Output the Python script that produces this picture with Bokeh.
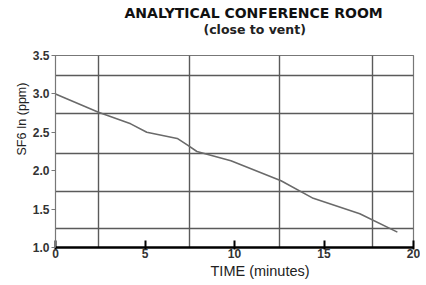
from bokeh.plotting import figure
from bokeh.models import Range1d, FixedTicker, Title, NumeralTickFormatter
from bokeh.embed import file_html
from bokeh.resources import INLINE

# data
time_min = [0, 2.4, 4.2, 5.1, 6.8, 7.4, 7.9, 9.8, 12.6, 14.4, 17.0, 19.1]
sf6_ln = [3.0, 2.76, 2.61, 2.50, 2.42, 2.33, 2.25, 2.13, 1.87, 1.64, 1.44, 1.20]

x_ticks = [0, 5, 10, 15, 20]
y_ticks = [1.0, 1.5, 2.0, 2.5, 3.0, 3.5]
x_grid = [2.4, 7.5, 12.5, 17.7]
y_grid = [1.25, 1.73, 2.23, 2.75, 3.24]

p = figure(width=420, height=280, output_backend="svg", toolbar_location=None,
           x_range=Range1d(0, 20), y_range=Range1d(1.0, 3.5),
           min_border_left=55, min_border_right=7, min_border_top=55, min_border_bottom=33)
p.title = None

p.line(time_min, sf6_ln, line_color="#6a6a6a", line_width=1.6)

p.xaxis.ticker = FixedTicker(ticks=x_ticks)
p.yaxis.ticker = FixedTicker(ticks=y_ticks)
p.yaxis.formatter = NumeralTickFormatter(format="0.0")
p.xgrid.ticker = FixedTicker(ticks=x_grid)
p.ygrid.ticker = FixedTicker(ticks=y_grid)
for g in (p.xgrid, p.ygrid):
    g.grid_line_color = "#5a5a5a"
    g.grid_line_width = 1.4
    g.grid_line_alpha = 1.0

p.outline_line_color = "#777777"
p.outline_line_width = 1.2

p.xaxis.axis_line_color = "black"
p.xaxis.axis_line_width = 2.5
p.xaxis.major_tick_line_color = "black"
p.xaxis.major_tick_line_width = 2
p.xaxis.major_tick_in = 7
p.xaxis.major_tick_out = 2
p.xaxis.minor_tick_line_color = None
p.xaxis.major_label_standoff = -1
p.xaxis.major_label_text_font = "Liberation Sans"
p.xaxis.major_label_text_font_size = "12px"
p.xaxis.major_label_text_font_style = "bold"
p.xaxis.major_label_text_color = "#333333"

p.yaxis.axis_line_color = "#777777"
p.yaxis.major_tick_line_color = "#777777"
p.yaxis.major_tick_in = 0
p.yaxis.major_tick_out = 4
p.yaxis.minor_tick_line_color = None
p.yaxis.major_label_standoff = 2
p.yaxis.major_label_text_font = "Liberation Sans"
p.yaxis.major_label_text_font_size = "12px"
p.yaxis.major_label_text_font_style = "bold"
p.yaxis.major_label_text_color = "#333333"

spacer = Title(text=" ", align="left", standoff=5,
               text_font="DejaVu Sans", text_font_size="11px")
sub = Title(text="(close to vent)", align="left", offset=148, standoff=-3,
            text_font="DejaVu Sans", text_font_size="12.5px",
            text_font_style="bold", text_color="#222222")
main = Title(text="ANALYTICAL CONFERENCE ROOM", align="left", offset=69, standoff=2,
             text_font="DejaVu Sans", text_font_size="14px",
             text_font_style="bold", text_color="#111111")
p.add_layout(spacer, "above")
p.add_layout(sub, "above")
p.add_layout(main, "above")

xlab = Title(text="TIME (minutes)", align="left", offset=155, standoff=0,
             text_font="Liberation Sans", text_font_size="14.5px",
             text_font_style="normal", text_color="#222222")
p.add_layout(xlab, "below")

ylab = Title(text="SF6 In (ppm)", align="left", offset=92, standoff=2,
             text_font="Liberation Sans", text_font_size="12.5px",
             text_font_style="normal", text_color="#222222")
p.add_layout(ylab, "left")

open("out.html", "w").write(file_html(p, INLINE))
